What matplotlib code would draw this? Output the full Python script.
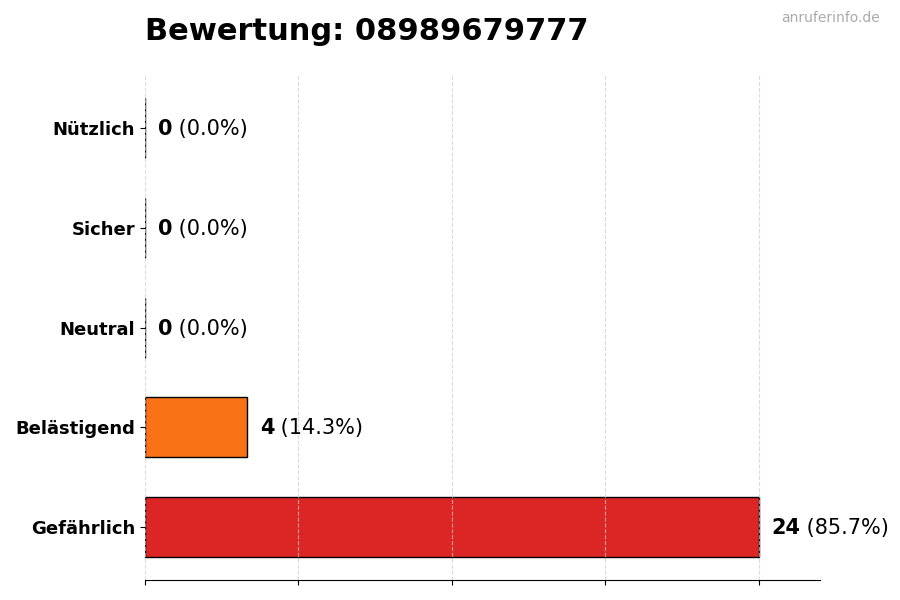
import matplotlib.pyplot as plt

categories = ["Gefährlich", "Belästigend", "Neutral", "Sicher", "Nützlich"]
counts = [24, 4, 0, 0, 0]
colors = ["#dc2626", "#f97316", "#9ca3af", "#22c55e", "#16a34a"]
total = sum(counts)

fig = plt.figure(figsize=(9, 6), dpi=100)
ax = fig.add_axes([0.161, 0.033, 0.75, 0.842])

# default zorder: grid ends up drawn over the bars, like the original
ax.barh(categories, counts, height=0.6, color=colors, edgecolor="black", linewidth=1)
ax.set_xlim(0, max(counts) * 1.1)
ax.set_xticks(range(0, max(counts) + 1, 6))
ax.set_xticklabels([])
ax.grid(axis="x", linestyle="--", color="#cccccc", alpha=0.7)

for side in ["top", "right", "left"]:
    ax.spines[side].set_visible(False)

for lbl in ax.get_yticklabels():
    lbl.set_fontweight("bold")
    lbl.set_fontsize(13)

for i, c in enumerate(counts):
    pct = c / total * 100
    t = ax.text(c + 0.5, i - 0.01, str(c), fontsize=15, fontweight="bold", va="center", ha="left")
    ax.annotate(f" ({pct:.1f}%)", xy=(1, 0.5), xycoords=t, va="center", ha="left", fontsize=15)

fig.text(0.161, 0.947, "Bewertung: 08989679777", fontsize=22, fontweight="bold", ha="left", va="center")
fig.text(0.978, 0.97, "anruferinfo.de", fontsize=10, color="#aaaaaa", ha="right", va="center")

fig.savefig("out.png", dpi=100)
